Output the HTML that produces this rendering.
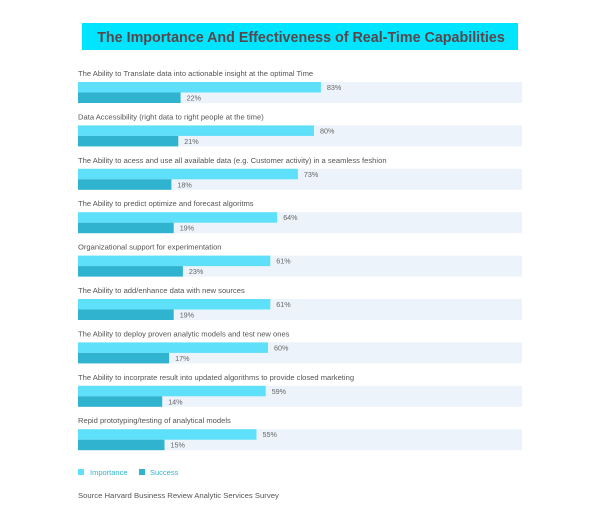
<!DOCTYPE html>
<html><head><meta charset="utf-8"><style>
body{margin:0;background:#fff;width:602px;height:532px;overflow:hidden;font-family:"Liberation Sans",sans-serif;}
svg{display:block}
</style></head><body>
<svg id="chart" width="602" height="532">
<rect x="82" y="23" width="436" height="27" fill="#00e5ff"/>
<text x="301" y="42" text-anchor="middle" font-size="14.3" font-weight="bold" fill="#5a4648">The Importance And Effectiveness of Real-Time Capabilities</text>
<g id="bars"></g>
<rect x="78" y="469" width="6" height="6" fill="#5ee0fb"/>
<text x="90" y="475" font-size="7.5" fill="#2fb3cf">Importance</text>
<rect x="139" y="469" width="6" height="6" fill="#2fb3cf"/>
<text x="150" y="475" font-size="7.5" fill="#2fb3cf">Success</text>
<text x="78" y="498" font-size="7.7" fill="#555">Source Harvard Business Review Analytic Services Survey</text>
</svg>
<script>
const categories=["The Ability to Translate data into actionable insight at the optimal Time","Data Accessibility (right data to right people at the time)","The Ability to acess and use all available data (e.g. Customer activity) in a seamless feshion","The Ability to predict optimize and forecast algoritms","Organizational support for experimentation","The Ability to add/enhance data with new sources","The Ability to deploy proven analytic models and test new ones","The Ability to incorprate result into updated algorithms to provide closed marketing","Repid prototyping/testing of analytical models"];
const importance=[83,80,73,64,61,61,60,59,55];
const success=[22,21,18,19,23,19,17,14,15];
const NS="http://www.w3.org/2000/svg";
const g=document.getElementById('bars');
const x0=78, trackEnd=522;
function xScale(v){return 130+2.3*v;}
function yScale(i){return 74+i*43.4;}
function mk(tag,attrs){const e=document.createElementNS(NS,tag);for(const k in attrs)e.setAttribute(k,attrs[k]);g.appendChild(e);return e;}
categories.forEach((c,i)=>{
  const y=yScale(i);
  const t=mk('text',{x:x0,y:y+2,'font-size':7.6,fill:'#555'});t.textContent=c;
  
  
  const tr=mk('rect',{x:x0,y:y+8,width:trackEnd-x0,height:21,fill:'#edf3fa'});
  
  
  const xi=xScale(importance[i]);
  const b1=mk('rect',{x:x0,y:y+8,width:xi-x0,height:10.5,fill:'#5ee0fb'});
  
  
  const l1=mk('text',{x:xi+6,y:y+16,'font-size':7.2,fill:'#666'});l1.textContent=importance[i]+'%';
  
  
  const xs=xScale(success[i]);
  const b2=mk('rect',{x:x0,y:y+18.5,width:xs-x0,height:10.5,fill:'#2fb3cf'});
  
  
  const l2=mk('text',{x:xs+6,y:y+26.5,'font-size':7.2,fill:'#666'});l2.textContent=success[i]+'%';
  
  
});
</script>
</body></html>
